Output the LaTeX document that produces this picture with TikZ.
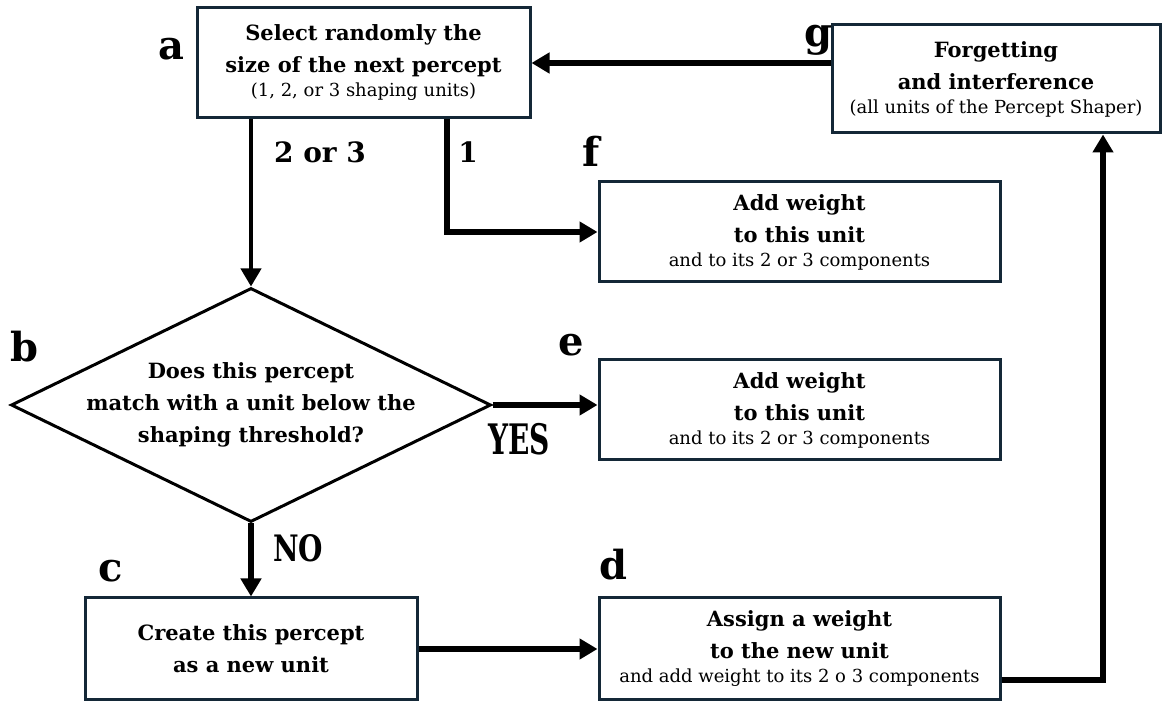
\documentclass[tikz,border=0pt]{standalone}
\usepackage{fontspec}
\usepackage{graphicx}
\usepackage{xcolor}
\usepackage{tikz}
\usetikzlibrary{arrows.meta,shapes.geometric,positioning}
\setmainfont{DejaVu Serif}
\definecolor{boxline}{RGB}{20,40,55}

\begin{document}
\begin{tikzpicture}[x=0.5pt, y=-0.5pt]
% Define styles
\tikzstyle{stepbox} = [rectangle, draw=boxline, line width=1.5pt, fill=white, align=center, inner sep=0pt, font=\fontsize{10.5}{16}\selectfont\bfseries]
\tikzstyle{question} = [diamond, aspect=2.05, draw=black, line width=1.5pt, minimum width=240pt, minimum height=117pt, inner sep=-3pt, align=center, font=\fontsize{10.5}{16}\selectfont\bfseries]
\tikzstyle{letter} = [font=\fontsize{20}{24}\selectfont\bfseries, anchor=base, inner sep=0pt]
\tikzstyle{branch} = [font=\fontsize{14}{16}\selectfont\bfseries, anchor=base, inner sep=0pt]
\tikzstyle{arrow} = [line width=3pt, -{Triangle[length=9pt,width=10pt]}]
\tikzstyle{thinarrow} = [line width=2pt, -{Triangle[length=9pt,width=10pt]}]
\newcommand{\note}[1]{\\[-4pt]{\fontsize{9}{12}\selectfont\mdseries #1}}

\useasboundingbox (0,0) rectangle (1162,704);

% Place nodes
\node [stepbox, minimum width=166.5pt, minimum height=55pt] (select) at (363.5,63) {Select randomly the\\size of the next percept\note{(1, 2, or 3 shaping units)}};
\node [stepbox, minimum width=164pt, minimum height=54pt] (forget) at (996,79) {Forgetting\\and interference\note{(all units of the Percept Shaper)}};
\node [stepbox, minimum width=200.5pt, minimum height=50pt] (addone) at (799.5,232) {Add weight\\to this unit\note{and to its 2 or 3 components}};
\node [stepbox, minimum width=200.5pt, minimum height=50pt] (addmatch) at (799.5,410) {Add weight\\to this unit\note{and to its 2 or 3 components}};
\node [question] (match) at (251,405) {Does this percept\\match with a unit below the\\shaping threshold?};
\node [stepbox, minimum width=166pt, minimum height=51pt] (create) at (251,649) {Create this percept\\as a new unit};
\node [stepbox, minimum width=200.5pt, minimum height=51pt] (assign) at (799.5,649) {Assign a weight\\to the new unit\note{and add weight to its 2 o 3 components}};

% Letters
\node [letter] (la) at (171,60) {a};
\node [letter] (lg) at (818,47) {g};
\node [letter] (lf) at (591,167) {f};
\node [letter] (le) at (571,356) {e};
\node [letter] (lb) at (24,362) {b};
\node [letter] (lc) at (111,582) {c};
\node [letter] (ld) at (613,580) {d};

% Branch labels
\node [branch] (two) at (320,163) {2 or 3};
\node [branch] (one) at (468,163) {1};
\node [branch] (yes) at (519,455) {\scalebox{1}[1.5]{YES}};
\node [branch] (no) at (298,562) {\scalebox{1}[1.3]{NO}};

% Draw arrows
\draw [arrow] (forget.west |- select.east) -- (select.east);
\draw [thinarrow] (select.south -| match.north) -- (match.north);
\draw [arrow] ([xshift=41.75pt]select.south) |- (addone.west);
\draw [arrow] (match.east) -- (match.east -| addmatch.west);
\draw [arrow] (match.south) -- (create.north);
\draw [arrow] (create.east) -- (assign.west);
\draw [arrow] ([yshift=-15.5pt]assign.east) -| ([xshift=53.5pt]forget.south);
\end{tikzpicture}
\end{document}
